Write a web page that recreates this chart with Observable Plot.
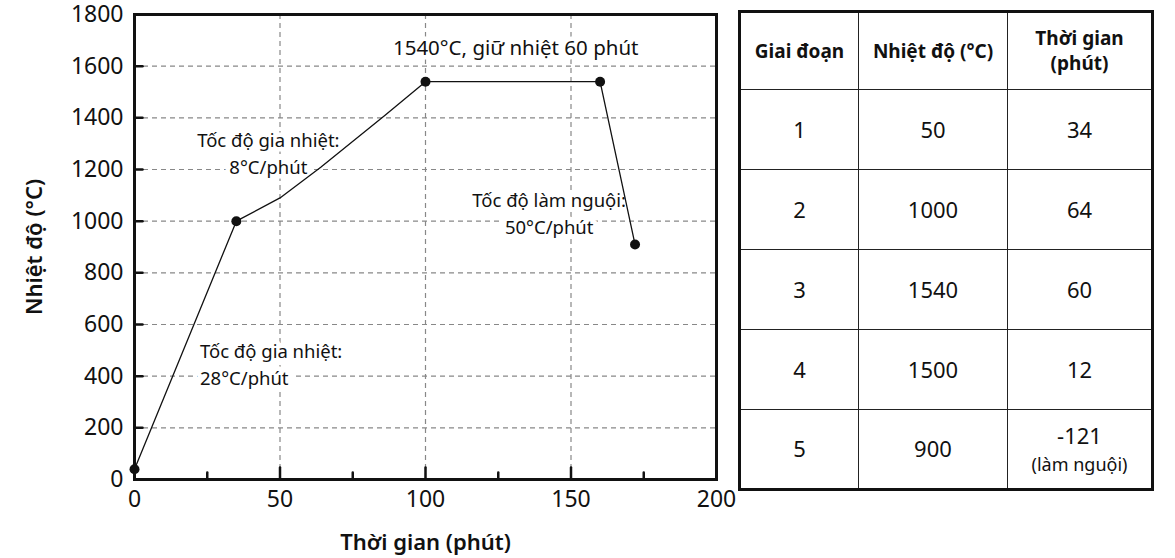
<!DOCTYPE html>
<html>
<head>
<meta charset="utf-8">
<script src="https://cdn.jsdelivr.net/npm/d3@7"></script>
<script src="https://cdn.jsdelivr.net/npm/@observablehq/plot@0.6"></script>
<style>
  body { margin: 0; background: #fff; }
  #wrap { position: relative; width: 1175px; height: 558px; font-family: "Noto Sans", sans-serif; }
  #chart { position: absolute; left: 0; top: 0; }
  #tbl { position: absolute; left: 738px; top: 10px; }
  table { border-collapse: collapse; border: 3px solid #111; table-layout: fixed; width: 413px; height: 481px; }
  td, th { border: 1.5px solid #222; text-align: center; vertical-align: middle; padding: 0; color: #111; }
  th { font-weight: 700; font-size: 19px; line-height: 1.3; }
  td { font-size: 22px; line-height: 1.15; }
  td .note { display: block; font-size: 18px; line-height: 1.1; margin-top: 6px; }
</style>
</head>
<body>
<div id="wrap">
  <div id="chart"></div>
  <div id="tbl"></div>
</div>
<script>
// ---- data ----
const profileTime = [0, 35, 50, 64, 86, 100, 160, 172];
const profileTemp = [40, 1000, 1090, 1209, 1409, 1540, 1540, 910];
const markerTime = [0, 35, 100, 160, 172];
const markerTemp = [40, 1000, 1540, 1540, 910];

const xTicks = [0, 50, 100, 150, 200];
const xMinorTicks = [25, 75, 125, 175];
const yTicks = [0, 200, 400, 600, 800, 1000, 1200, 1400, 1600, 1800];

const titleNote = "1540°C, giữ nhiệt 60 phút";
const titleNoteTime = 131;
const titleNoteTemp = 1669;
const centeredNotes = ["Tốc độ gia nhiệt:\n8°C/phút", "Tốc độ làm nguội:\n50°C/phút"];
const centeredNoteTime = [46, 142.5];
const centeredNoteTemp = [1268, 1037];
const leftNotes = ["Tốc độ gia nhiệt:\n28°C/phút"];
const leftNoteTime = [22.5];
const leftNoteTemp = [452];

const tableHeaders = ["Giai đoạn", "Nhiệt độ (°C)", "Thời gian\n(phút)"];
const stages = [1, 2, 3, 4, 5];
const stageTemps = [50, 1000, 1540, 1500, 900];
const stageTimes = ["34", "64", "60", "12", "-121"];
const stageNotes = ["", "", "", "", "(làm nguội)"];

// ---- chart ----
const profile = profileTime.map((t, i) => ({t, v: profileTemp[i]}));
const markers = markerTime.map((t, i) => ({t, v: markerTemp[i]}));
const cNotes = centeredNotes.map((s, i) => ({s, t: centeredNoteTime[i], v: centeredNoteTemp[i]}));
const lNotes = leftNotes.map((s, i) => ({s, t: leftNoteTime[i], v: leftNoteTemp[i]}));
const tNotes = [{s: titleNote, t: titleNoteTime, v: titleNoteTemp}];
const tickShapeUp = {draw(ctx, l) { ctx.moveTo(0, 0); ctx.lineTo(0, -l); }};
const halo = {stroke: "white", strokeWidth: 9, strokeLinejoin: "round", fill: "#111"};

const chart = Plot.plot({
  width: 735,
  height: 558,
  marginLeft: 134,
  marginRight: 19,
  marginTop: 14,
  marginBottom: 79,
  style: {fontFamily: "'Noto Sans', sans-serif", fontSize: "23px", color: "#111", background: "transparent", overflow: "visible"},
  x: {domain: [0, 200]},
  y: {domain: [0, 1800]},
  marks: [
    Plot.gridX(xTicks.slice(1, -1), {stroke: "#888", strokeOpacity: 1, strokeDasharray: "5,4", strokeWidth: 1.2}),
    Plot.gridY(yTicks.slice(1, -1), {stroke: "#888", strokeOpacity: 1, strokeDasharray: "5,4", strokeWidth: 1.2}),
    Plot.text(tNotes, {x: "t", y: "v", text: "s", fontSize: 20.5, textAnchor: "middle", ...halo}),
    Plot.text(cNotes, {x: "t", y: "v", text: "s", fontSize: 18.5, lineHeight: 1.45, textAnchor: "middle", ...halo}),
    Plot.text(lNotes, {x: "t", y: "v", text: "s", fontSize: 18.5, lineHeight: 1.45, textAnchor: "start", ...halo}),
    Plot.line(profile, {x: "t", y: "v", stroke: "#111", strokeWidth: 1.3}),
    Plot.dot(markers, {x: "t", y: "v", r: 5, fill: "#111", stroke: "none"}),
    Plot.vector(xTicks, {x: d => d, y: 0, length: 12, anchor: "start", shape: tickShapeUp, stroke: "#111", strokeWidth: 2.5}),
    Plot.vector(xMinorTicks, {x: d => d, y: 0, length: 7, anchor: "start", shape: tickShapeUp, stroke: "#111", strokeWidth: 2.5}),
    Plot.vector(yTicks, {x: 0, y: d => d, length: 8, rotate: 90, anchor: "start", shape: tickShapeUp, stroke: "#111", strokeWidth: 2.5}),
    Plot.axisX(xTicks, {tickSize: 0, tickPadding: 11, fontSize: 23, tickFormat: d => String(d), label: "Thời gian (phút)", labelAnchor: "center", labelOffset: 70, labelArrow: "none"}),
    Plot.axisY(yTicks, {tickSize: 0, tickPadding: 11, fontSize: 23, tickFormat: d => String(d), label: "Nhiệt độ (°C)", labelAnchor: "center", labelOffset: 108, labelArrow: "none"}),
    Plot.frame({stroke: "#111", strokeWidth: 3})
  ]
});
chart.querySelectorAll("[aria-label='x-axis label'] text, [aria-label='y-axis label'] text").forEach(t => {
  t.setAttribute("font-size", "22");
  t.setAttribute("font-weight", "600");
});
document.getElementById("chart").appendChild(chart);

// ---- table ----
const table = document.createElement("table");
const colW = [119, 149, 145];
const cg = document.createElement("colgroup");
colW.forEach(w => { const c = document.createElement("col"); c.style.width = w + "px"; cg.appendChild(c); });
table.appendChild(cg);
const hr = document.createElement("tr");
hr.style.height = "78px";
tableHeaders.forEach(h => {
  const th = document.createElement("th");
  h.split("\n").forEach((line, i) => { if (i) th.appendChild(document.createElement("br")); th.appendChild(document.createTextNode(line)); });
  hr.appendChild(th);
});
table.appendChild(hr);
stages.forEach((s, i) => {
  const tr = document.createElement("tr");
  tr.style.height = "80px";
  [String(s), String(stageTemps[i])].forEach(v => { const td = document.createElement("td"); td.textContent = v; tr.appendChild(td); });
  const td = document.createElement("td");
  const main = document.createElement("span");
  main.style.display = "block";
  main.textContent = stageTimes[i];
  td.appendChild(main);
  if (stageNotes[i]) { const sp = document.createElement("span"); sp.className = "note"; sp.textContent = stageNotes[i]; td.appendChild(sp); }
  tr.appendChild(td);
  table.appendChild(tr);
});
document.getElementById("tbl").appendChild(table);
</script>
</body>
</html>
